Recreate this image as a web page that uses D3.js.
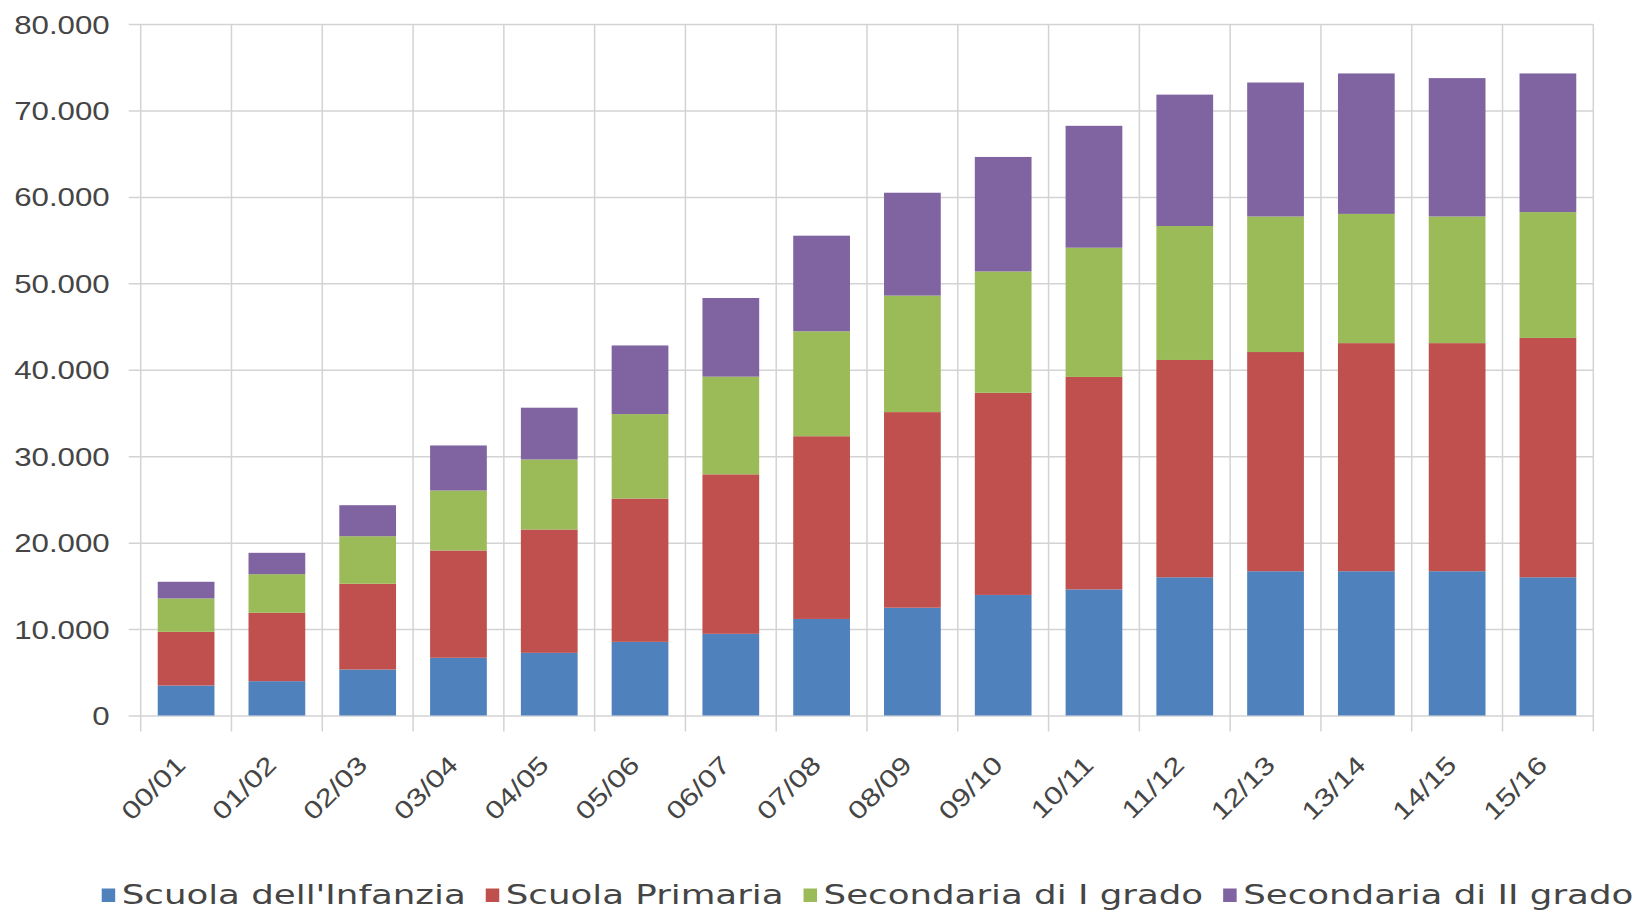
<!DOCTYPE html>
<html>
<head>
<meta charset="utf-8">
<script src="https://cdn.jsdelivr.net/npm/d3@7"></script>
<style>
  body { margin: 0; background: #fff; }
  svg { display: block; font-family: "DejaVu Sans", sans-serif; }
  .grid line { stroke: #d3d3d3; stroke-width: 1.5; }
  .axis text { fill: #454545; font-size: 25px; }
  .legend text { fill: #454545; font-size: 26px; }
</style>
</head>
<body>
<script>
var categories = ["00/01", "01/02", "02/03", "03/04", "04/05", "05/06", "06/07", "07/08",
  "08/09", "09/10", "10/11", "11/12", "12/13", "13/14", "14/15", "15/16"];

var infanzia = [3470, 3970, 5320, 6680, 7250, 8520, 9450, 11170, 12470, 13950, 14590, 15990, 16690, 16690, 16690, 15990];
var primaria = [6210, 7910, 9920, 12410, 14270, 16580, 18450, 21140, 22630, 23380, 24580, 25140, 25360, 26390, 26390, 27690];
var secondariaI = [3860, 4470, 5500, 6940, 8100, 9770, 11300, 12140, 13480, 14040, 14950, 15500, 15680, 14950, 14650, 14560];
var secondariaII = [1930, 2470, 3590, 5210, 5990, 7940, 9100, 11060, 11900, 13250, 14100, 15200, 15500, 16250, 16010, 16040];

var seriesNames = ["Scuola dell'Infanzia", "Scuola Primaria", "Secondaria di I grado", "Secondaria di II grado"];
var seriesColors = ["#4F81BD", "#C0504D", "#9BBB59", "#8064A2"];
var yTicks = [0, 10000, 20000, 30000, 40000, 50000, 60000, 70000, 80000];

const W = 1643;
const H = 922;
const plotLeft = 140.7;
const plotRight = 1593.3;
const plotTop = 24;
const plotBottom = 715.5;
const gap = 0.375;
// DejaVu is narrower than the original's round font, so text gets widened
const axisStretch = 1.25;
const legendStretch = 1.37;

var svg = d3.select("body")
  .append("svg")
  .attr("width", W)
  .attr("height", H);

// rows for the stack
var rows = categories.map(function (c, i) {
  return {
    cat: c,
    s0: infanzia[i],
    s1: primaria[i],
    s2: secondariaI[i],
    s3: secondariaII[i]
  };
});
var stack = d3.stack().keys(["s0", "s1", "s2", "s3"])(rows);

var x = d3.scaleBand()
  .domain(categories)
  .range([plotLeft, plotRight])
  .paddingInner(gap)
  .paddingOuter(gap / 2);

var y = d3.scaleLinear()
  .domain([0, 80000])
  .range([plotBottom, plotTop]);

var it = d3.formatLocale({ decimal: ",", thousands: ".", grouping: [3], currency: ["€", ""] });
var fmt = it.format(",d");

// horizontal grid + y labels
var yAxis = svg.append("g")
  .attr("class", "axis grid")
  .attr("transform", "translate(" + plotLeft + ",0)")
  .call(d3.axisLeft(y).tickValues(yTicks).tickFormat(fmt).tickSizeOuter(0));
yAxis.select(".domain").remove();
yAxis.selectAll(".tick line")
  .attr("x1", -12)
  .attr("x2", plotRight - plotLeft);
yAxis.selectAll(".tick text")
  .attr("x", 0)
  .attr("dy", "0.36em")
  .attr("transform", "translate(-31,0) scale(" + axisStretch + ",1)");

// vertical grid at band boundaries
var edges = categories.map(function (c) {
  return x(c) + x.bandwidth() / 2 - x.step() / 2;
});
edges.push(plotRight);
svg.append("g")
  .attr("class", "grid")
  .selectAll("line")
  .data(edges)
  .join("line")
  .attr("x1", function (d) { return d; })
  .attr("x2", function (d) { return d; })
  .attr("y1", plotTop)
  .attr("y2", plotBottom + 16);

// bars
svg.append("g")
  .selectAll("g")
  .data(stack)
  .join("g")
  .attr("fill", function (d, i) { return seriesColors[i]; })
  .selectAll("rect")
  .data(function (d) { return d; })
  .join("rect")
  .attr("x", function (d) { return x(d.data.cat); })
  .attr("width", x.bandwidth())
  .attr("y", function (d) { return y(d[1]); })
  .attr("height", function (d) { return y(d[0]) - y(d[1]); });

// x labels, rotated
var xAxis = svg.append("g")
  .attr("class", "axis")
  .attr("transform", "translate(0," + plotBottom + ")")
  .call(d3.axisBottom(x).tickSize(0));
xAxis.select(".domain").remove();
xAxis.selectAll(".tick text")
  .attr("text-anchor", "end")
  .attr("y", 0)
  .attr("dy", 0)
  .attr("transform", "translate(1,51) rotate(-45) scale(" + axisStretch + ",1)");

// legend
var legend = svg.append("g").attr("class", "legend");
var lx = 101.7;
seriesNames.forEach(function (name, i) {
  legend.append("rect")
    .attr("x", lx)
    .attr("y", 888.5)
    .attr("width", 13.5)
    .attr("height", 13.5)
    .attr("fill", seriesColors[i]);
  var t = legend.append("text")
    .attr("transform", "translate(" + (lx + 20) + ",903.5) scale(" + legendStretch + ",1)")
    .text(name);
  lx += 20 + t.node().getComputedTextLength() * legendStretch + 20;
});
</script>
</body>
</html>
